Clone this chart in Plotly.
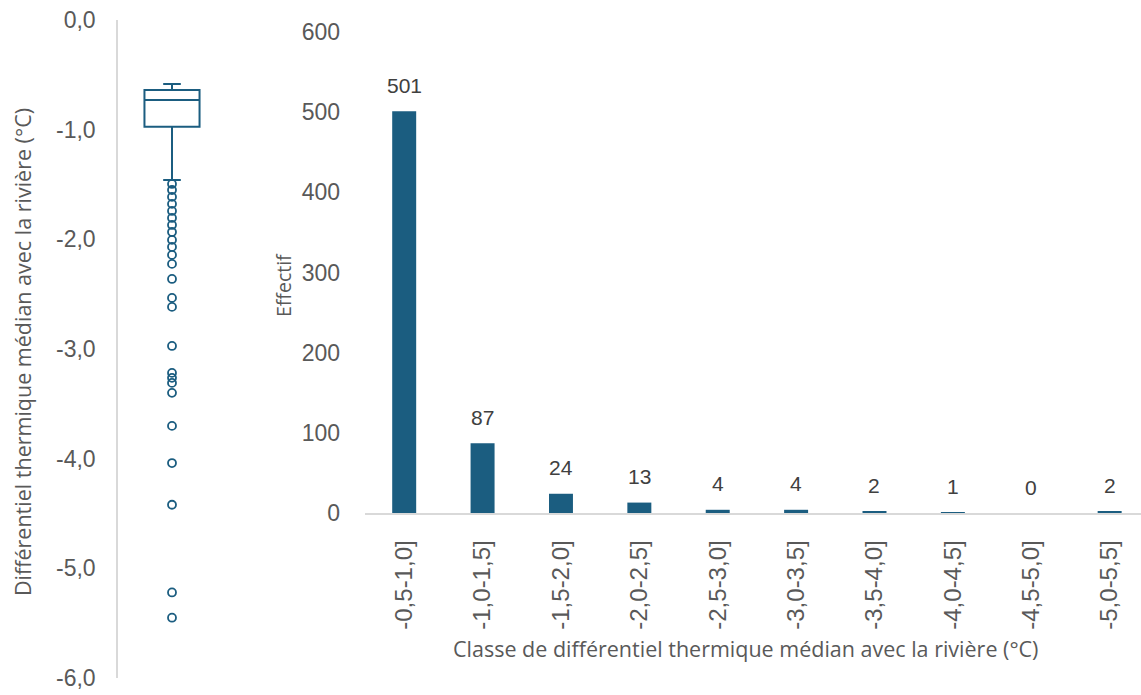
import plotly.graph_objects as go

# Distribution of the median thermal differential with the river (°C)
box_q1 = -0.973
box_median = -0.729
box_q3 = -0.638
box_upper = -0.583
box_lower = -1.459
outliers = [-1.495, -1.550, -1.613, -1.677, -1.741, -1.805, -1.869, -1.933,
            -2.005, -2.069, -2.142, -2.224, -2.361, -2.534, -2.616, -2.972,
            -3.218, -3.263, -3.309, -3.400, -3.701, -4.040, -4.420, -5.220,
            -5.450]
box_ticks = [0, -1, -2, -3, -4, -5, -6]

# Histogram of classes
classes = ["-0,5-1,0]", "-1,0-1,5]", "-1,5-2,0]", "-2,0-2,5]", "-2,5-3,0]",
           "-3,0-3,5]", "-3,5-4,0]", "-4,0-4,5]", "-4,5-5,0]", "-5,0-5,5]"]
counts = [501, 87, 24, 13, 4, 4, 2, 1, 0, 2]

W, H = 1141, 695
BLUE = "#1b5d80"
GREY_TXT = "#595959"
AXIS_GREY = "#d9d9d9"
NUM_FONT = "Liberation Sans"
TITLE_FONT = "Open Sans"


def px_x(x):
    return x / W


def px_y(y):
    return 1 - y / H


def fr_num(v):
    # French decimal comma with a plain hyphen for negatives
    return f"{v:.1f}".replace(".", ",")


fig = go.Figure()

# Box plot (precomputed statistics) and its outliers
fig.add_trace(go.Box(
    x=[0.5], q1=[box_q1], median=[box_median], q3=[box_q3],
    lowerfence=[box_lower], upperfence=[box_upper],
    width=0.51, whiskerwidth=0.32, boxpoints=False,
    fillcolor="rgba(255,255,255,0)",
    line=dict(color=BLUE, width=2),
    xaxis="x", yaxis="y", showlegend=False, hoverinfo="skip",
))
fig.add_trace(go.Scatter(
    x=[0.5] * len(outliers), y=outliers, mode="markers",
    marker=dict(symbol="circle-open", size=8, color=BLUE,
                line=dict(color=BLUE, width=1.8)),
    xaxis="x", yaxis="y", showlegend=False, hoverinfo="skip",
))

# Histogram bars
fig.add_trace(go.Bar(
    x=classes, y=counts, marker=dict(color=BLUE, line=dict(width=0)),
    xaxis="x2", yaxis="y2", showlegend=False,
))

annotations = []
for c, v in zip(classes, counts):
    annotations.append(dict(
        x=c, y=v, xref="x2", yref="y2", text=str(v), showarrow=False,
        yshift=26, font=dict(family=NUM_FONT, size=21, color="#404040"),
    ))

annotations.append(dict(
    text="Différentiel thermique médian avec la rivière (°C)",
    x=px_x(22), y=px_y(352), xref="paper", yref="paper",
    xanchor="center", yanchor="middle", textangle=-90, showarrow=False,
    font=dict(family=TITLE_FONT, size=21.5, color=GREY_TXT),
))
annotations.append(dict(
    text="Effectif", x=px_x(283), y=px_y(285), xref="paper", yref="paper",
    xanchor="center", yanchor="middle", textangle=-90, showarrow=False,
    font=dict(family=TITLE_FONT, size=19.5, color=GREY_TXT),
))
annotations.append(dict(
    text="Classe de différentiel thermique médian avec la rivière (°C)",
    x=px_x(745), y=px_y(648), xref="paper", yref="paper",
    xanchor="center", yanchor="middle", showarrow=False,
    font=dict(family=TITLE_FONT, size=21.5, color=GREY_TXT),
))

fig.update_layout(
    width=W, height=H,
    margin=dict(l=0, r=0, t=0, b=0, autoexpand=False),
    paper_bgcolor="white", plot_bgcolor="white",
    bargap=0.694,
    annotations=annotations,
    xaxis=dict(domain=[px_x(118), px_x(226)], range=[0, 1], visible=False,
               fixedrange=True, automargin=False),
    yaxis=dict(domain=[px_y(678), px_y(20)], range=[-6, 0],
               tickvals=box_ticks, ticktext=[fr_num(v) for v in box_ticks],
               showgrid=False, zeroline=False, automargin=False,
               showline=True, linecolor=AXIS_GREY, linewidth=1.5,
               ticks="", ticklabelstandoff=16,
               tickfont=dict(family=NUM_FONT, size=23, color=GREY_TXT)),
    xaxis2=dict(domain=[px_x(365), 1], range=[-0.5, 9.4], type="category",
                showline=True, linecolor=AXIS_GREY, linewidth=1.5,
                showgrid=False, zeroline=False, ticks="", tickangle=-90,
                ticklabelstandoff=16, automargin=False,
                tickfont=dict(family=NUM_FONT, size=24, color=GREY_TXT),
                anchor="y2"),
    yaxis2=dict(domain=[px_y(513), px_y(32)], range=[0, 600], dtick=100,
                showgrid=False, zeroline=False, showline=False, ticks="",
                ticklabelstandoff=24, anchor="x2", automargin=False,
                tickfont=dict(family=NUM_FONT, size=23, color=GREY_TXT)),
)

fig.write_html("out.html")
